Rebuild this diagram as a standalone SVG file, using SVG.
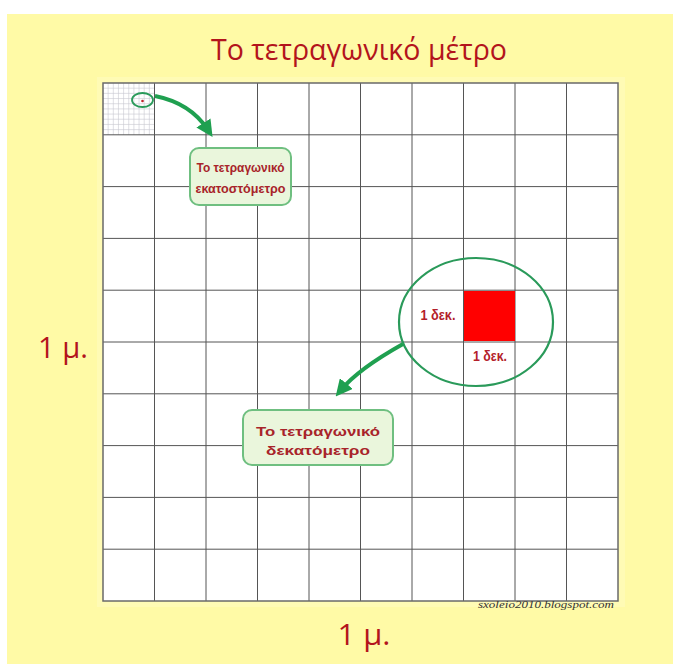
<svg xmlns="http://www.w3.org/2000/svg" width="673" height="664" viewBox="0 0 673 664">
  <defs>
    <style>
      .grid { stroke: #555; stroke-width: 1; fill: none; }
      .sub { stroke: #c8c8d0; stroke-width: 0.6; fill: none; }
      .title { font-family: "Open Sans", "Liberation Sans", sans-serif; fill: #b3141c; }
      .lbl { font-family: "Liberation Sans", sans-serif; font-weight: bold; fill: #a8242a; font-size: 13.5px; }
      .dek { font-family: "Liberation Sans", sans-serif; font-weight: bold; fill: #b3202a; font-size: 14px; }
      .box { fill: #eaf6dc; stroke: #6fbf80; stroke-width: 2; }
      .arrow { stroke: #1fa050; stroke-width: 4; fill: none; marker-end: url(#ah); }
    </style>
    <marker id="ah" viewBox="0 0 10 10" refX="5" refY="5" markerWidth="4.2" markerHeight="4.2" orient="auto" markerUnits="strokeWidth">
      <path d="M0,0 L10,5 L0,10 z" fill="#1fa050"/>
    </marker>
  </defs>

  <rect x="0" y="0" width="673" height="664" fill="#ffffff"/>
  <rect x="7" y="14" width="666" height="650" fill="#fffaa6"/>
  <rect x="97" y="77" width="528" height="530" fill="#fffcd2" opacity="0.35"/>

  <text class="title" x="359" y="60" font-size="30" text-anchor="middle" textLength="296" lengthAdjust="spacingAndGlyphs">Το τετραγωνικό μέτρο</text>

  <g id="grid">
    <rect x="103" y="83" width="515" height="518" fill="#ffffff"/>
    <g class="sub">
      <path d="M108.15,83V134.8M113.3,83V134.8M118.45,83V134.8M123.6,83V134.8M128.75,83V134.8M133.9,83V134.8M139.05,83V134.8M144.2,83V134.8M149.35,83V134.8"/>
      <path d="M103,88.18H154.5M103,93.36H154.5M103,98.54H154.5M103,103.72H154.5M103,108.9H154.5M103,114.08H154.5M103,119.26H154.5M103,124.44H154.5M103,129.62H154.5"/>
    </g>
    <g class="grid">
      <path d="M154.5,83V601M206,83V601M257.5,83V601M309,83V601M360.5,83V601M412,83V601M463.5,83V601M515,83V601M566.5,83V601"/>
      <path d="M103,134.8H618M103,186.6H618M103,238.4H618M103,290.2H618M103,342H618M103,393.8H618M103,445.6H618M103,497.4H618M103,549.2H618"/>
      <rect x="103" y="83" width="515" height="518" stroke="#6a6a6a" stroke-width="1.5"/>
    </g>
  </g>

  <g id="cm2-marker">
    <ellipse cx="142.5" cy="100" rx="10.5" ry="7" fill="none" stroke="#2a9a5a" stroke-width="1.8"/>
    <circle cx="142.5" cy="101" r="1.3" fill="#c0202a"/>
  </g>

  <g id="dm2-marker">
    <rect x="464" y="291" width="51" height="50" fill="#ff0000"/>
    <ellipse cx="476" cy="322" rx="77" ry="64" fill="none" stroke="#2a9a5a" stroke-width="2.2"/>
    <text class="dek" x="438" y="320" text-anchor="middle" textLength="35" lengthAdjust="spacingAndGlyphs">1 δεκ.</text>
    <text class="dek" x="490" y="361" text-anchor="middle" textLength="34" lengthAdjust="spacingAndGlyphs">1 δεκ.</text>
  </g>

  <g id="connectors">
    <path class="arrow" d="M155,96 C180,101 197,113 208,130"/>
    <path class="arrow" d="M403,344 C378,358 355,373 341,390"/>
  </g>

  <g id="label-cm2">
    <rect class="box" x="190" y="148" width="101" height="57" rx="9"/>
    <text class="lbl" x="240.5" y="172" text-anchor="middle" textLength="88" lengthAdjust="spacingAndGlyphs">Το τετραγωνικό</text>
    <text class="lbl" x="240.5" y="193" text-anchor="middle" textLength="90" lengthAdjust="spacingAndGlyphs">εκατοστόμετρο</text>
  </g>

  <g id="label-dm2">
    <rect class="box" x="243" y="410" width="150" height="55" rx="9"/>
    <text class="lbl" x="318" y="436" text-anchor="middle" font-size="14.5" textLength="124" lengthAdjust="spacingAndGlyphs">Το τετραγωνικό</text>
    <text class="lbl" x="318" y="455" text-anchor="middle" font-size="14.5" textLength="104" lengthAdjust="spacingAndGlyphs">δεκατόμετρο</text>
  </g>

  <g id="side-labels">
    <text class="title" x="63" y="358" font-size="30" text-anchor="middle" textLength="50" lengthAdjust="spacingAndGlyphs">1 μ.</text>
    <text class="title" x="364" y="645" font-size="30" text-anchor="middle" textLength="53" lengthAdjust="spacingAndGlyphs">1 μ.</text>
    <text x="546" y="608" font-family="Liberation Serif, serif" font-style="italic" font-size="10.5" fill="#333" text-anchor="middle" textLength="136" lengthAdjust="spacingAndGlyphs">sxoleio2010.blogspot.com</text>
  </g>
</svg>
